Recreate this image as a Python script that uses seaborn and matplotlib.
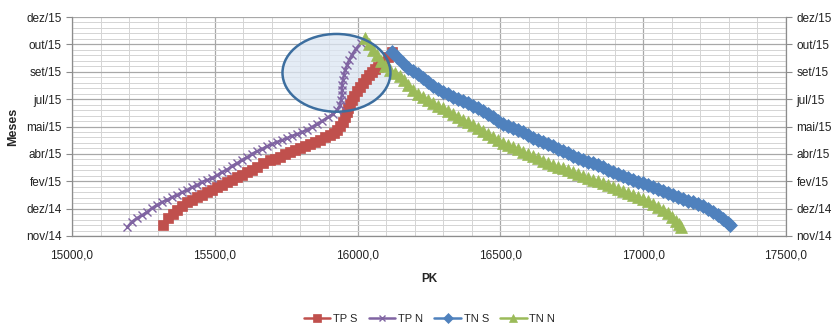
import matplotlib
matplotlib.use("Agg")
import matplotlib.pyplot as plt
from matplotlib.patches import Ellipse
from matplotlib.ticker import MultipleLocator, FixedLocator
import numpy as np
import pandas as pd
import seaborn as sns

# Progress of each tunnel face: PK reached vs. day counted from the axis origin (nov/14)
tps_pk = [15319, 15336, 15352, 15368, 15386, 15403, 15420, 15438, 15455, 15473, 15490,
          15508, 15525, 15543, 15560, 15578, 15596, 15613, 15630, 15648, 15670, 15693,
          15710, 15728, 15746, 15763, 15780, 15798, 15816, 15833, 15850, 15868, 15886,
          15903, 15916, 15928, 15940, 15949, 15957, 15963, 15968, 15973, 15980, 15987,
          15998, 16008, 16018, 16029, 16040, 16050, 16061, 16071, 16082, 16092, 16106, 16120]
tps_day = [20, 33, 40, 47, 55, 62, 66, 71, 75, 80, 84,
           89, 94, 99, 103, 108, 112, 117, 121, 126, 133, 139,
           141, 144, 149, 153, 157, 161, 165, 168, 171, 175, 180,
           184, 189, 194, 201, 208, 217, 226, 233, 241, 248, 256,
           264, 272, 280, 287, 294, 300, 305, 309, 314, 318, 327, 336]

tpn_pk = [15193, 15210, 15228, 15245, 15263, 15280, 15298, 15315, 15333, 15350, 15368,
          15385, 15403, 15420, 15438, 15455, 15473, 15490, 15508, 15525, 15543, 15560,
          15578, 15595, 15613, 15630, 15648, 15665, 15683, 15700, 15718, 15735, 15753,
          15770, 15788, 15805, 15823, 15840, 15858, 15875, 15896, 15914, 15928, 15938,
          15942, 15945, 15945, 15945, 15949, 15952, 15956, 15963, 15970, 15980, 15994, 16012]
tpn_day = [16, 26, 33, 38, 44, 51, 57, 62, 66, 71, 75,
           80, 84, 89, 93, 99, 102, 106, 111, 117, 121, 128,
           133, 139, 144, 150, 155, 159, 164, 168, 172, 175, 179,
           183, 186, 190, 194, 199, 205, 210, 217, 223, 230, 239,
           248, 258, 267, 276, 285, 294, 303, 312, 321, 331, 342, 353]

tns_pk = [16120, 16138, 16159, 16176, 16194, 16211, 16229, 16246, 16264, 16281, 16299,
          16316, 16334, 16351, 16369, 16386, 16404, 16421, 16439, 16456, 16474, 16491,
          16509, 16526, 16544, 16561, 16579, 16596, 16614, 16631, 16649, 16666, 16684,
          16701, 16719, 16736, 16754, 16771, 16789, 16806, 16824, 16842, 16859, 16877,
          16894, 16912, 16929, 16947, 16964, 16982, 16999, 17017, 17034, 17052, 17069,
          17087, 17104, 17122, 17139, 17157, 17174, 17192, 17209, 17227, 17244, 17262,
          17279, 17297, 17304]
tns_day = [336, 327, 316, 307, 301, 296, 289, 281, 274, 268, 263,
           259, 254, 250, 247, 243, 237, 234, 228, 223, 217, 210,
           205, 201, 197, 194, 190, 184, 179, 175, 172, 168, 164,
           159, 155, 152, 146, 142, 139, 135, 133, 130, 126, 121,
           117, 113, 110, 106, 102, 99, 97, 93, 89, 86, 82,
           79, 75, 71, 68, 64, 62, 58, 55, 49, 44, 38,
           31, 24, 20]

tnn_pk = [16026, 16040, 16054, 16068, 16082, 16096, 16113, 16131, 16148, 16162, 16176,
          16194, 16211, 16229, 16246, 16264, 16281, 16299, 16316, 16334, 16351, 16369,
          16386, 16404, 16421, 16439, 16456, 16474, 16491, 16509, 16526, 16544, 16561,
          16579, 16596, 16614, 16631, 16649, 16666, 16684, 16701, 16719, 16736, 16754,
          16771, 16789, 16806, 16824, 16842, 16859, 16877, 16894, 16912, 16929, 16947,
          16964, 16982, 16999, 17017, 17034, 17052, 17069, 17087, 17101, 17115, 17125, 17132]
tnn_day = [362, 351, 340, 331, 320, 311, 303, 298, 292, 285, 276,
           267, 259, 254, 248, 243, 237, 234, 228, 223, 217, 212,
           208, 203, 197, 192, 186, 181, 175, 170, 166, 163, 159,
           153, 150, 146, 142, 137, 133, 130, 126, 124, 121, 117,
           113, 110, 106, 102, 100, 97, 93, 89, 86, 82, 79,
           75, 71, 68, 64, 58, 53, 47, 42, 35, 27, 22, 16]

series_names = ["TP S", "TP N", "TN S", "TN N"]
series_pk = [tps_pk, tpn_pk, tns_pk, tnn_pk]
series_day = [tps_day, tpn_day, tns_day, tnn_day]
series_colors = ["#c0504d", "#8064a2", "#4f81bd", "#9bbb59"]
series_markers = ["s", "x", "D", "^"]
series_msize = [7.6, 6.2, 7.2, 8.2]

month_labels = ["nov/14", "dez/14", "fev/15", "abr/15", "mai/15",
                "jul/15", "set/15", "out/15", "dez/15"]
pk_labels = ["15000,0", "15500,0", "16000,0", "16500,0", "17000,0", "17500,0"]

sns.set_style("white")
plt.rcParams["font.family"] = ["Liberation Sans", "DejaVu Sans"]

fig = plt.figure(figsize=(8.34, 3.29), dpi=100)
ax = fig.add_axes([72 / 834, 1 - 236 / 329, (786 - 72) / 834, (236 - 17) / 329])

ax.set_xlim(15000, 17500)
ax.set_ylim(0, 400)

# Grid: major every 500 PK / 50 days, minor every 100 PK / 10 days
ax.xaxis.set_major_locator(FixedLocator([15000, 15500, 16000, 16500, 17000, 17500]))
ax.xaxis.set_minor_locator(MultipleLocator(100))
ax.yaxis.set_major_locator(FixedLocator(list(range(0, 401, 50))))
ax.yaxis.set_minor_locator(MultipleLocator(10))
ax.grid(which="major", color="#a8a8a8", linewidth=0.9)
ax.grid(which="minor", color="#d4d4d4", linewidth=0.7)
ax.set_axisbelow(True)

# Highlighted zone where the two TP faces approach each other
zone = Ellipse((15926, 298), width=378, height=142, facecolor="#dce6f2",
               edgecolor="none", alpha=0.75, zorder=1.5)
ax.add_patch(zone)

for name, pk, day, col, mk, ms in zip(series_names, series_pk, series_day,
                                      series_colors, series_markers, series_msize):
    df = pd.DataFrame({"PK": pk, "dia": day})
    sns.lineplot(data=df, x="PK", y="dia", sort=False, estimator=None, ax=ax,
                 color=col, linewidth=1.8, marker=mk, markersize=ms,
                 markeredgecolor=col, markeredgewidth=1.0 if mk == "x" else 0.5,
                 label=name, zorder=3)

zone_edge = Ellipse((15926, 298), width=378, height=142, facecolor="none",
                    edgecolor="#3c6e9f", linewidth=1.8, zorder=4)
ax.add_patch(zone_edge)

ax.set_xticklabels(pk_labels)
ax.set_yticklabels(month_labels)
ax.tick_params(axis="both", which="major", labelsize=8.5, colors="#222222",
               direction="out", length=4, width=0.8)
ax.tick_params(axis="both", which="major", color="#8c8c8c")
ax.tick_params(axis="y", which="major", right=True, labelright=True, left=True, labelleft=True)
ax.tick_params(axis="both", which="minor", length=0)
ax.tick_params(axis="x", pad=6)

for side in ["left", "right", "bottom"]:
    ax.spines[side].set_visible(True)
    ax.spines[side].set_color("#8c8c8c")
    ax.spines[side].set_linewidth(0.9)
ax.spines["top"].set_visible(False)

ax.set_xlabel("PK", fontsize=8.5, fontweight="bold", labelpad=8)
ax.set_ylabel("Meses", fontsize=9, fontweight="bold", labelpad=5)

handles, labels = ax.get_legend_handles_labels()
ax.get_legend().remove()
fig.legend(handles, labels, loc="lower center", bbox_to_anchor=(0.515, -0.015),
           ncol=4, frameon=False, fontsize=8, handlelength=2.4,
           columnspacing=1.0, handletextpad=0.25, markerscale=0.75)

fig.savefig("out.png", dpi=100)
